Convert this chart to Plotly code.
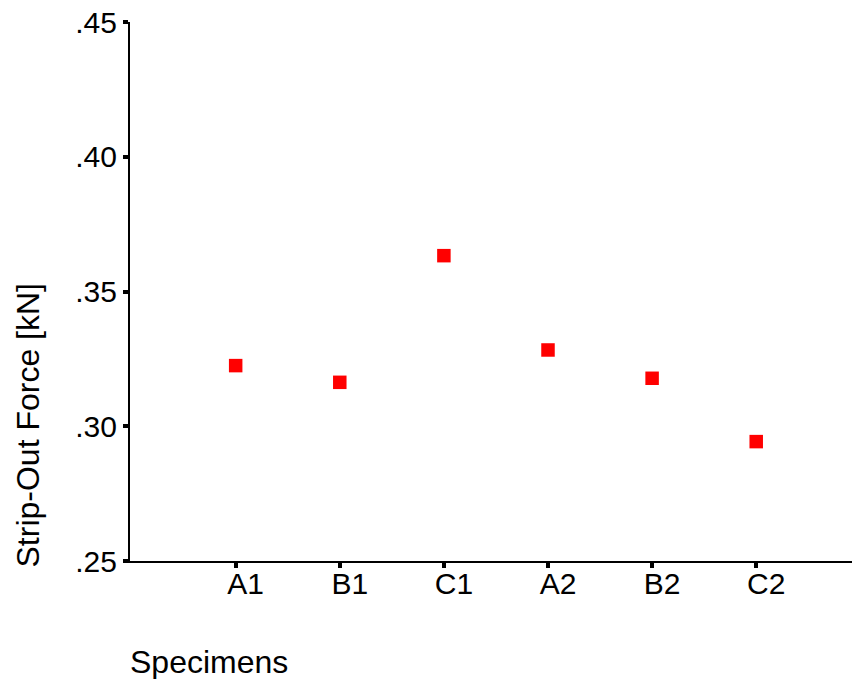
import plotly.graph_objects as go

specimens = ["A1", "B1", "C1", "A2", "B2", "C2"]
strip_out_force = [0.3225, 0.3163, 0.3633, 0.3283, 0.3178, 0.2943]
y_tick_values = [0.25, 0.30, 0.35, 0.40, 0.45]
y_tick_labels = [".25", ".30", ".35", ".40", ".45"]

FONT = "Liberation Sans, Arial, sans-serif"

fig = go.Figure()
fig.add_trace(go.Scatter(
    x=specimens, y=strip_out_force, mode="markers",
    marker=dict(symbol="square", size=13.5, color="#ff0000", line=dict(width=0)),
    showlegend=False,
))

fig.update_layout(
    width=853, height=679,
    margin=dict(l=130, r=1, t=22, b=118),
    paper_bgcolor="white", plot_bgcolor="white",
    font=dict(family=FONT, size=30, color="black"),
    xaxis=dict(
        type="category", range=[-1.015, 5.92],
        showline=True, linecolor="black", linewidth=2,
        ticks="outside", ticklen=5, tickwidth=4, tickcolor="black",
        showgrid=False, zeroline=False,
        ticklabelstandoff=-10, ticklabelshift=10,
        tickfont=dict(family=FONT, size=30, color="black"),
    ),
    yaxis=dict(
        range=[0.25, 0.45],
        tickvals=y_tick_values, ticktext=y_tick_labels,
        showline=True, linecolor="black", linewidth=2,
        ticks="outside", ticklen=5, tickwidth=4, tickcolor="black",
        showgrid=False, zeroline=False,
        tickfont=dict(family=FONT, size=30, color="black"),
    ),
    annotations=[
        dict(text="Strip-Out Force [kN]", textangle=-90,
             x=0, xref="paper", xanchor="center", xshift=-103,
             y=0, yref="paper", yanchor="bottom", yshift=-9,
             showarrow=False, font=dict(family=FONT, size=32, color="black")),
        dict(text="Specimens",
             x=0, xref="paper", xanchor="left", xshift=-2,
             y=0, yref="paper", yanchor="middle", yshift=-101,
             showarrow=False, font=dict(family=FONT, size=32, color="black")),
    ],
)

fig.write_html("out.html")
